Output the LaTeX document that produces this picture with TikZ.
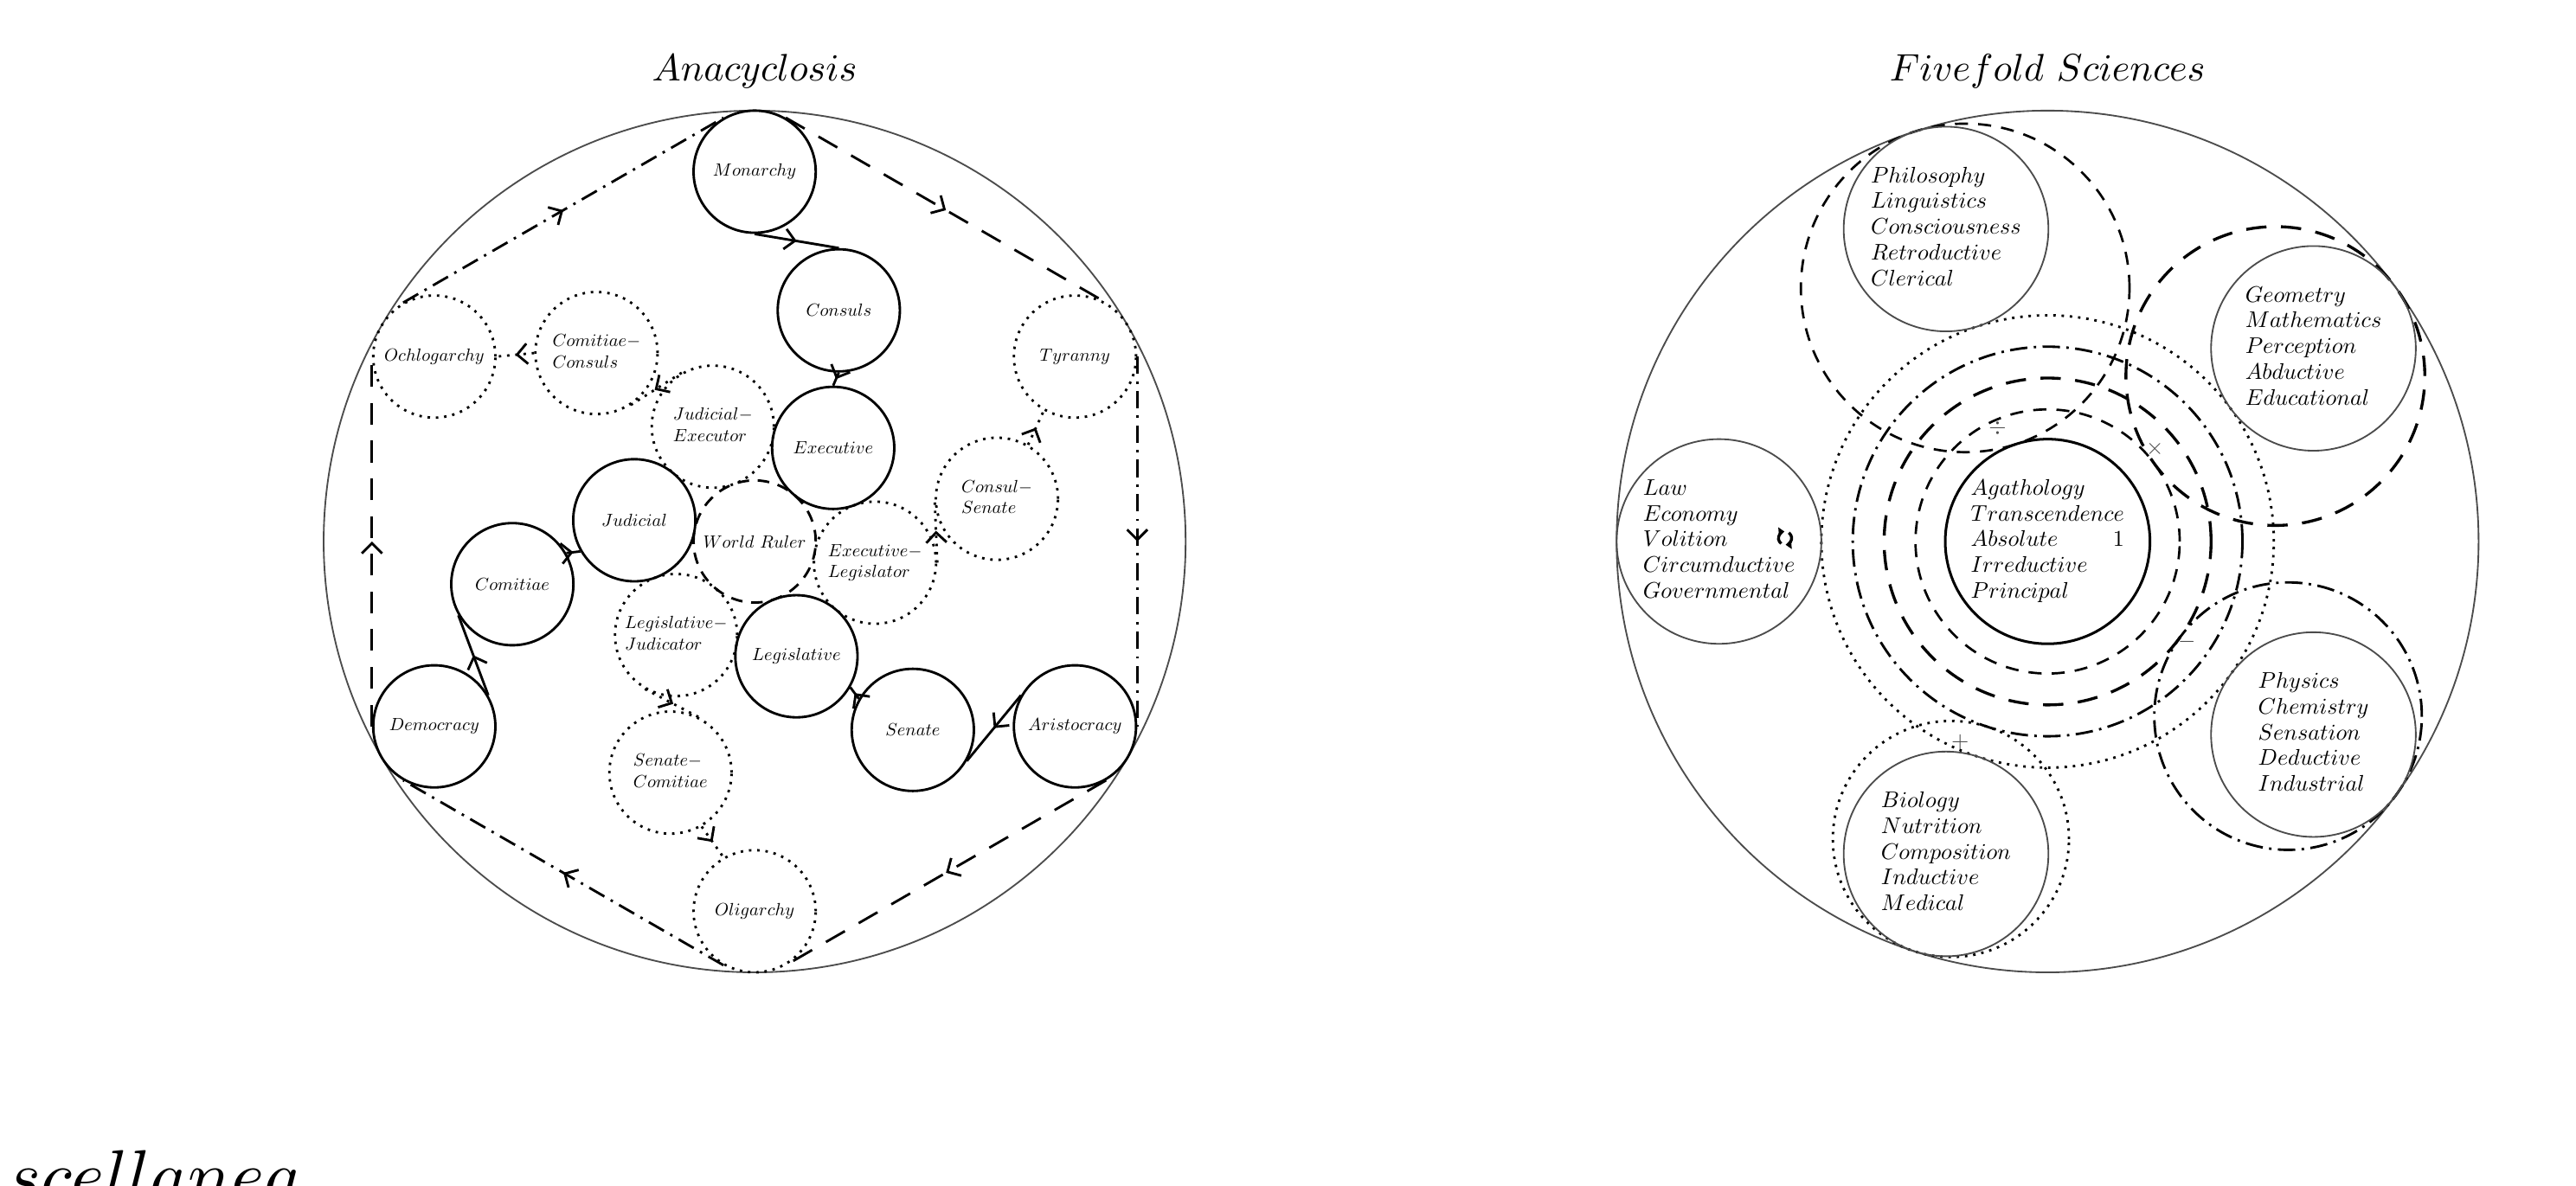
\documentclass[tikz,border=0pt]{standalone}
\usepackage{amsmath,amssymb,graphicx}
\usepackage{tikz}
\usetikzlibrary{arrows.meta,decorations.markings}
\definecolor{rimgray}{gray}{0.3}
\newcommand{\lab}[1]{\scalebox{0.61}{$#1$}}
\newcommand{\labtwo}[2]{\scalebox{0.61}{$\begin{array}{@{}l@{}}#1\\#2\end{array}$}}
\newcommand{\sci}[1]{\scalebox{0.78}{\renewcommand{\arraystretch}{0.95}\begin{tabular}{@{}l@{}}#1\end{tabular}}}
\newcommand{\sm}[1]{\scalebox{0.78}{$#1$}}

\begin{document}
\begin{tikzpicture}[x=0.02cm, y=0.02cm,
  state/.style={circle, draw, line width=0.85pt, minimum size=1.48cm, inner sep=0pt},
  mixed/.style={circle, draw, line width=0.85pt, dotted, minimum size=1.48cm, inner sep=0pt},
  ruler/.style={state, dash pattern=on 4pt off 3pt},
  science/.style={circle, draw=rimgray, line width=0.55pt, minimum size=2.48cm, inner sep=0pt},
  core/.style={circle, draw, line width=0.9pt, minimum size=2.48cm, inner sep=0pt},
  rim/.style={draw=rimgray, line width=0.55pt},
  sign/.style={text=rimgray, inner sep=0pt},
  turn/.style={line width=1pt, -{Triangle[length=2pt,width=3.2pt]}},
  midarrow/.style={postaction={decorate}, decoration={markings,
    mark=at position 0.5 with {\arrow{Straight Barb[length=3.5pt,width=7pt]}}}},
  flow/.style={line width=0.85pt, midarrow},
  drift/.style={line width=0.85pt, dotted, midarrow},
  cycledash/.style={line width=0.85pt, dash pattern=on 7.5pt off 5.5pt, midarrow},
  cycledashdot/.style={line width=0.85pt, dash pattern=on 6pt off 2.5pt on 0.85pt off 2.5pt, midarrow},
  ringa/.style={line width=0.8pt, dash pattern=on 4.5pt off 3.5pt},
  ringb/.style={line width=1pt, dash pattern=on 7pt off 5pt},
  ringc/.style={line width=0.85pt, dash pattern=on 6pt off 2.2pt on 0.85pt off 2.2pt},
  ringd/.style={line width=0.85pt, dotted}
]
  \useasboundingbox (0,0) rectangle (1560,718);

  % Titles
  \node[anchor=base] (anacyclosis) at (457,669) {\scalebox{1.32}{$Anacyclosis$}};
  \node[anchor=base] (fivefold) at (1240,669) {\scalebox{1.32}{$Fivefold\ Sciences$}};
  \node[anchor=base west, inner sep=0pt] (miscellanea) at (4,-9.3) {\scalebox{2.47}{$scellanea$}};

  % Anacyclosis
  \begin{scope}[shift={(457,390)}]
    \draw[rim] (0,0) circle (261);

    % outer states
    \node[state] (monarchy)    at (90:224)  {\lab{Monarchy}};
    \node[mixed] (tyranny)     at (30:224)  {\lab{Tyranny}};
    \node[state] (aristocracy) at (-30:224) {\lab{Aristocracy}};
    \node[mixed] (oligarchy)   at (-90:224) {\lab{Oligarchy}};
    \node[state] (democracy)   at (210:224) {\lab{Democracy}};
    \node[mixed] (ochlogarchy) at (150:224) {\lab{Ochlogarchy}};

    % middle ring
    \node[state] (consuls)  at (70:149)  {\lab{Consuls}};
    \node[mixed] (comcon)   at (130:149) {\labtwo{Comitiae-}{Consuls}};
    \node[state] (comitiae) at (190:149) {\lab{Comitiae}};
    \node[mixed] (sencom)   at (250:149) {\labtwo{Senate-}{Comitiae}};
    \node[state] (senate)   at (310:149) {\lab{Senate}};
    \node[mixed] (consen)   at (10:149)  {\labtwo{Consul-}{Senate}};

    % inner ring
    \node[state] (executive)   at (50:74)  {\lab{Executive}};
    \node[mixed] (judexe)      at (110:74) {\labtwo{Judicial-}{Executor}};
    \node[state] (judicial)    at (170:74) {\lab{Judicial}};
    \node[mixed] (legjud)      at (230:74) {\labtwo{Legislative-}{Judicator}};
    \node[state] (legislative) at (290:74) {\lab{Legislative}};
    \node[mixed] (execleg)     at (350:74) {\labtwo{Executive-}{Legislator}};
    \node[ruler] (worldruler)  at (0,0)    {\lab{World\ Ruler}};
  \end{scope}

  % cycle of the six constitutions
  \draw[cycledash]    (monarchy.60)     -- (tyranny.60);
  \draw[cycledashdot] (tyranny.east)    -- (aristocracy.east);
  \draw[cycledash]    (aristocracy.-60) -- (oligarchy.-60);
  \draw[cycledashdot] (oligarchy.240)   -- (democracy.240);
  \draw[cycledash]    (democracy.west)  -- (ochlogarchy.west);
  \draw[cycledashdot] (ochlogarchy.120) -- (monarchy.120);

  % mixed constitution chains
  \draw[flow] (monarchy.south) -- (consuls.north);
  \draw[flow] (consuls.south)  -- (executive.north);
  \draw[flow] (aristocracy.150) -- (senate.-30);
  \draw[flow] (senate.150)      -- (legislative.-30);
  \draw[flow] (democracy.30) -- (comitiae.210);
  \draw[flow] (comitiae.30)  -- (judicial.210);

  % decay chains
  \draw[drift] (execleg.east) -- (consen.west);
  \draw[drift] (consen.60)    -- (tyranny.240);
  \draw[drift] (judexe.120)   -- (comcon.300);
  \draw[drift] (comcon.west)  -- (ochlogarchy.east);
  \draw[drift] (legjud.240)   -- (sencom.60);
  \draw[drift] (sencom.300)   -- (oligarchy.120);

  % Fivefold Sciences
  \begin{scope}[shift={(1240,390)}]
    \draw[rim] (0,0) circle (261);

    % rings round the centre
    \draw[ringa] (0,0) circle (80);
    \draw[ringb] (0,0) circle (99);
    \draw[ringc] (0,0) circle (118);
    \draw[ringd] (0,0) circle (137);

    % rings round the outer sciences
    \draw[ringa] (108:161.5) circle (99.5);
    \draw[ringb] (36:170.5)  circle (90.5);
    \draw[ringc] (-36:180)   circle (81);
    \draw[ringd] (-108:189.5) circle (71.5);

    \node[core] (agathology) at (0,0)
      {\sci{$Agathology$\\$Transcendence$\\$Absolute$\hfill$1$\\$Irreductive$\\$Principal$}};
    \node[science] (law) at (180:199)
      {\sci{$Law$\\$Economy$\\$Volition$\\$Circumductive$\\$Governmental$}};
    \node[science] (philosophy) at (108:199)
      {\sci{$Philosophy$\\$Linguistics$\\$Consciousness$\\$Retroductive$\\$Clerical$}};
    \node[science] (geometry) at (36:199)
      {\sci{$Geometry$\\$Mathematics$\\$Perception$\\$Abductive$\\$Educational$}};
    \node[science] (physics) at (-36:199)
      {\sci{$Physics$\\$Chemistry$\\$Sensation$\\$Deductive$\\$Industrial$}};
    \node[science] (biology) at (-108:199)
      {\sci{$Biology$\\$Nutrition$\\$Composition$\\$Inductive$\\$Medical$}};

    % operation signs
    \node[sign] (divsign)   at (-30.3,68.6)  {\sm{\div}};
    \node[sign] (timessign) at (65,56.3)     {\sm{\times}};
    \node[sign] (minussign) at (84.3,-60.7)  {\sm{-}};
    \node[sign] (plussign)  at (-53,-121.7)  {\sm{+}};

    % turning sign in the law circle
    \coordinate (lawturn) at (-159,2);
    \draw[turn] (lawturn) ++(235:4) arc[start angle=235, end angle=95, radius=4];
    \draw[turn] (lawturn) ++(55:4) arc[start angle=55, end angle=-85, radius=4];
  \end{scope}
\end{tikzpicture}
\end{document}
